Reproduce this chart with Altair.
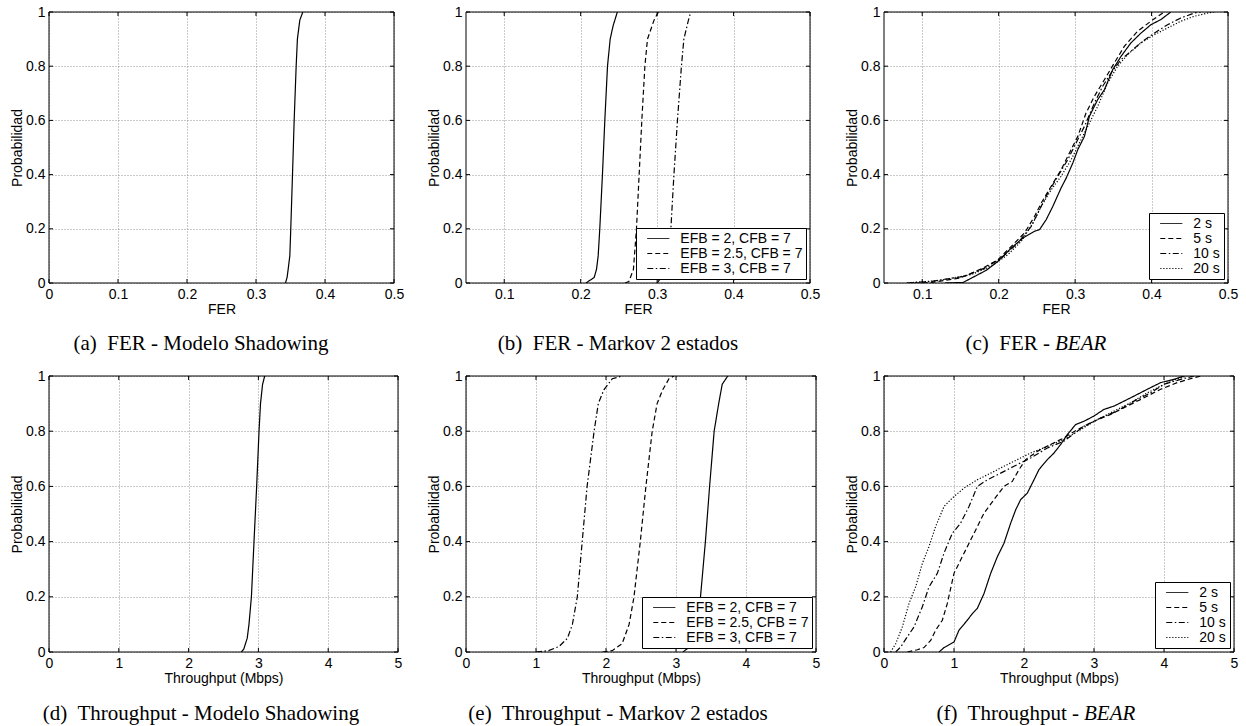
import altair as alt
import pandas as pd

SANS = "Liberation Sans"
SERIF = "Liberation Serif"

# Tick positions
PROB_TICKS = [0, 0.2, 0.4, 0.6, 0.8, 1]
FER_TICKS_FULL = [0, 0.1, 0.2, 0.3, 0.4, 0.5]
FER_TICKS = [0.1, 0.2, 0.3, 0.4, 0.5]
THR_TICKS = [0, 1, 2, 3, 4, 5]

# (a) FER, shadowing model
FER_SHADOW_X = [0.3427, 0.345, 0.3466, 0.349, 0.3504, 0.3529, 0.3553, 0.3582, 0.360, 0.3635, 0.3679]
FER_SHADOW_P = [0, 0.02, 0.05, 0.1, 0.2, 0.4, 0.6, 0.8, 0.9, 0.97, 1]

# (b) FER, two-state Markov model
FER_MK2_X = [0.2068, 0.2176, 0.2207, 0.2229, 0.225, 0.2285, 0.2316, 0.2351, 0.2386, 0.2425, 0.248]
FER_MK2_P = [0, 0.02, 0.05, 0.1, 0.2, 0.4, 0.6, 0.8, 0.9, 0.95, 1]
FER_MK25_X = [0.258, 0.263, 0.269, 0.273, 0.2765, 0.28, 0.284, 0.2874, 0.296, 0.3017]
FER_MK25_P = [0, 0.005, 0.05, 0.2, 0.4, 0.6, 0.8, 0.9, 0.97, 1]
FER_MK3_X = [0.300, 0.308, 0.314, 0.318, 0.322, 0.3266, 0.3318, 0.335, 0.341, 0.344]
FER_MK3_P = [0, 0.03, 0.1, 0.2, 0.4, 0.6, 0.8, 0.9, 0.97, 1]

# (c) FER, BEAR
FER_B2_X = [0.13, 0.1535, 0.1643, 0.1839, 0.1991, 0.2165, 0.2317, 0.247, 0.2535, 0.2622, 0.2709,
            0.2817, 0.2883, 0.297, 0.3035, 0.3122, 0.3187, 0.3296, 0.3383, 0.3491, 0.36, 0.373,
            0.3861, 0.3991, 0.4122, 0.4252]
FER_B2_P = [0, 0.002, 0.018, 0.047, 0.08, 0.129, 0.166, 0.191, 0.197, 0.234, 0.283,
            0.351, 0.387, 0.443, 0.492, 0.541, 0.615, 0.677, 0.713, 0.787, 0.836, 0.886,
            0.922, 0.953, 0.972, 1]
FER_B5_X = [0.09, 0.112, 0.149, 0.1774, 0.1991, 0.2165, 0.2339, 0.247, 0.2557, 0.2687, 0.2817,
            0.2926, 0.3035, 0.3143, 0.3252, 0.3383, 0.3513, 0.3643, 0.3817, 0.3991, 0.4165]
FER_B5_P = [0, 0.002, 0.018, 0.052, 0.086, 0.135, 0.185, 0.246, 0.295, 0.357, 0.418,
            0.48, 0.541, 0.627, 0.689, 0.75, 0.812, 0.873, 0.929, 0.966, 1]
FER_B10_X = [0.08, 0.112, 0.1557, 0.1817, 0.2035, 0.2252, 0.2426, 0.2535, 0.2643, 0.2774, 0.2904,
             0.3013, 0.3122, 0.3252, 0.3361, 0.347, 0.36, 0.373, 0.3883, 0.4035, 0.4209, 0.4383,
             0.4557, 0.4643]
FER_B10_P = [0, 0.006, 0.025, 0.055, 0.092, 0.148, 0.209, 0.271, 0.332, 0.394, 0.455,
             0.517, 0.578, 0.664, 0.726, 0.775, 0.824, 0.855, 0.892, 0.922, 0.953, 0.978,
             0.996, 1]
FER_B20_X = [0.08, 0.1209, 0.1643, 0.1904, 0.2122, 0.2296, 0.2448, 0.2557, 0.2687, 0.2817, 0.2948,
             0.3057, 0.3165, 0.3296, 0.3426, 0.3557, 0.3687, 0.3861, 0.4035, 0.4209, 0.4383,
             0.4557, 0.473, 0.4817]
FER_B20_P = [0, 0.009, 0.031, 0.062, 0.105, 0.154, 0.221, 0.283, 0.344, 0.394, 0.455,
             0.517, 0.578, 0.652, 0.738, 0.80, 0.843, 0.886, 0.916, 0.941, 0.966,
             0.984, 0.996, 1]

# (d) Throughput, shadowing model
THR_SHADOW_X = [2.755, 2.79, 2.84, 2.865, 2.90, 2.937, 2.975, 3.009, 3.03, 3.06, 3.09]
THR_SHADOW_P = [0, 0.01, 0.05, 0.1, 0.2, 0.4, 0.6, 0.8, 0.9, 0.97, 1]

# (e) Throughput, two-state Markov model
THR_MK2_X = [3.10, 3.20, 3.26, 3.35, 3.42, 3.48, 3.545, 3.61, 3.66, 3.74]
THR_MK2_P = [0, 0.02, 0.05, 0.2, 0.4, 0.6, 0.8, 0.9, 0.97, 1]
THR_MK25_X = [1.95, 2.09, 2.23, 2.33, 2.40, 2.49, 2.57, 2.66, 2.73, 2.81, 2.90, 2.97]
THR_MK25_P = [0, 0.005, 0.03, 0.1, 0.2, 0.4, 0.6, 0.8, 0.9, 0.95, 0.99, 1]
THR_MK3_X = [1.0, 1.18, 1.33, 1.45, 1.52, 1.59, 1.66, 1.73, 1.83, 1.89, 1.97, 2.09, 2.23]
THR_MK3_P = [0, 0.005, 0.02, 0.05, 0.1, 0.2, 0.4, 0.6, 0.8, 0.9, 0.95, 0.99, 1]

# (f) Throughput, BEAR
THR_B2_X = [0.786, 0.857, 1.0, 1.071, 1.19, 1.262, 1.333, 1.429, 1.524, 1.619, 1.714, 1.81, 1.881,
            1.952, 2.048, 2.143, 2.214, 2.333, 2.429, 2.524, 2.619, 2.738, 2.857, 3.0, 3.143,
            3.286, 3.429, 3.571, 3.762, 3.952, 4.143, 4.286]
THR_B2_P = [0, 0.016, 0.036, 0.079, 0.115, 0.139, 0.158, 0.212, 0.285, 0.345, 0.394, 0.467, 0.515,
            0.552, 0.576, 0.624, 0.661, 0.697, 0.721, 0.752, 0.788, 0.824, 0.836, 0.855, 0.879,
            0.891, 0.909, 0.927, 0.952, 0.976, 0.988, 1]
THR_B5_X = [0.333, 0.476, 0.571, 0.667, 0.738, 0.833, 0.905, 1.0, 1.143, 1.286, 1.429, 1.571, 1.714,
            1.833, 1.929, 2.024, 2.19, 2.381, 2.571, 2.762, 3.0, 3.238, 3.476, 3.714, 3.952,
            4.19, 4.429, 4.524]
THR_B5_P = [0, 0.008, 0.016, 0.042, 0.079, 0.115, 0.176, 0.285, 0.358, 0.43, 0.503, 0.552, 0.6,
            0.618, 0.661, 0.697, 0.727, 0.752, 0.776, 0.806, 0.836, 0.861, 0.891, 0.921, 0.952,
            0.976, 0.994, 1]
THR_B10_X = [0.167, 0.238, 0.333, 0.429, 0.548, 0.643, 0.762, 0.857, 0.976, 1.095, 1.214, 1.333,
             1.476, 1.667, 1.857, 2.095, 2.333, 2.571, 2.857, 3.095, 3.333, 3.571, 3.81, 4.0,
             4.238, 4.429]
THR_B10_P = [0, 0.018, 0.055, 0.091, 0.164, 0.236, 0.285, 0.358, 0.43, 0.467, 0.527, 0.6,
             0.624, 0.648, 0.673, 0.703, 0.739, 0.764, 0.818, 0.848, 0.873, 0.909, 0.939, 0.97,
             0.988, 1]
THR_B20_X = [0.095, 0.167, 0.262, 0.357, 0.452, 0.548, 0.643, 0.738, 0.857, 0.976, 1.143, 1.333,
             1.524, 1.714, 1.905, 2.095, 2.333, 2.571, 2.81, 3.048, 3.286, 3.524, 3.762, 4.0,
             4.238, 4.333]
THR_B20_P = [0, 0.03, 0.091, 0.176, 0.236, 0.321, 0.382, 0.455, 0.527, 0.558, 0.594, 0.624,
             0.648, 0.673, 0.697, 0.721, 0.745, 0.77, 0.806, 0.842, 0.873, 0.903, 0.939, 0.97,
             0.994, 1]

# Series names and line styles
MARKOV_LABELS = ["EFB = 2, CFB = 7", "EFB = 2.5, CFB = 7", "EFB = 3, CFB = 7"]
MARKOV_DASH = [[1, 0], [5, 3], [6, 2.5, 1.5, 2.5]]
BEAR_LABELS = ["2 s", "5 s", "10 s", "20 s"]
BEAR_DASH = [[1, 0], [5, 3], [6, 2.5, 1.5, 2.5], [1.2, 1.8]]

FS = 14  # axis and legend text size


def to_frame(curves, labels):
    rows = []
    for lab, (xs, ps) in zip(labels, curves):
        for i, (x, p) in enumerate(zip(xs, ps)):
            rows.append({"x": x, "p": p, "serie": lab, "i": i})
    return pd.DataFrame(rows)


def panel(curves, labels, dashes, xdomain, xticks, xtitle, w, h, caption,
          cap_dy, italic=None, split=None):
    xscale = alt.Scale(domain=xdomain, nice=False, zero=False)
    yscale = alt.Scale(domain=[0, 1], nice=False, zero=False)
    xaxis = alt.Axis(values=xticks, title=xtitle, format="~g", grid=True)
    yaxis = alt.Axis(values=PROB_TICKS, title="Probabilidad", format="~g", grid=True)
    xenc = alt.X("x:Q", scale=xscale, axis=xaxis)
    yenc = alt.Y("p:Q", scale=yscale, axis=yaxis)

    enc = dict(x=xenc, y=yenc, order=alt.Order("i:Q"))
    if len(labels) > 1:
        enc["strokeDash"] = alt.StrokeDash(
            "serie:N",
            scale=alt.Scale(domain=labels, range=dashes),
            legend=alt.Legend(
                title=None, orient="bottom-right", offset=4, padding=3.5,
                strokeColor="black", fillColor="white", cornerRadius=0,
                labelFont=SANS, labelFontSize=FS, labelColor="black",
                symbolType="M-3,0H3", symbolSize=54, symbolStrokeWidth=1,
                symbolStrokeColor="black", symbolOffset=11.8, labelOffset=15,
                rowPadding=1,
            ),
        )
    else:
        enc["detail"] = alt.Detail("serie:N")

    lines = alt.Chart(to_frame(curves, labels)).mark_line(
        color="black", strokeWidth=1.2, clip=True
    ).encode(**enc)

    # inward tick marks on all four sides
    xt = pd.DataFrame({"x": xticks})
    yt = pd.DataFrame({"p": PROB_TICKS})
    rule = dict(color="black", strokeWidth=1)
    t_bottom = alt.Chart(xt).mark_rule(**rule).encode(x=xenc, y=alt.value(h), y2=alt.value(h - 4))
    t_top = alt.Chart(xt).mark_rule(**rule).encode(x=xenc, y=alt.value(0), y2=alt.value(4))
    t_left = alt.Chart(yt).mark_rule(**rule).encode(y=yenc, x=alt.value(0), x2=alt.value(4))
    t_right = alt.Chart(yt).mark_rule(**rule).encode(y=yenc, x=alt.value(w - 4), x2=alt.value(w))

    box = alt.Chart(pd.DataFrame({"b": [0]})).mark_rect(
        fillOpacity=0, stroke="black", strokeWidth=1
    ).encode(x=alt.value(0), x2=alt.value(w), y=alt.value(0), y2=alt.value(h))

    layers = [lines, t_bottom, t_top, t_left, t_right, box]

    cap_y = h + cap_dy
    cap_style = dict(font=SERIF, fontSize=21, baseline="middle", color="black")
    if italic is None:
        layers.append(
            alt.Chart(pd.DataFrame({"t": [caption]})).mark_text(align="center", **cap_style)
            .encode(text="t:N", x=alt.value(152), y=alt.value(cap_y))
        )
    else:
        layers.append(
            alt.Chart(pd.DataFrame({"t": [caption]})).mark_text(align="right", **cap_style)
            .encode(text="t:N", x=alt.value(split - 5), y=alt.value(cap_y))
        )
        layers.append(
            alt.Chart(pd.DataFrame({"t": [italic]})).mark_text(
                align="left", fontStyle="italic", **cap_style
            ).encode(text="t:N", x=alt.value(split), y=alt.value(cap_y))
        )

    return alt.layer(*layers).properties(width=w, height=h)


W1, H1 = 345, 271
W2, H2 = 349, 276

pa = panel([(FER_SHADOW_X, FER_SHADOW_P)], ["Shadowing"], [[1, 0]],
           [0, 0.5], FER_TICKS_FULL, "FER", W1, H1,
           "(a)\u00a0 FER - Modelo Shadowing", 61)
pb = panel([(FER_MK2_X, FER_MK2_P), (FER_MK25_X, FER_MK25_P), (FER_MK3_X, FER_MK3_P)],
           MARKOV_LABELS, MARKOV_DASH, [0.05, 0.5], FER_TICKS, "FER", W1 - 1, H1,
           "(b)\u00a0 FER - Markov 2 estados", 61)
pc = panel([(FER_B2_X, FER_B2_P), (FER_B5_X, FER_B5_P), (FER_B10_X, FER_B10_P),
            (FER_B20_X, FER_B20_P)],
           BEAR_LABELS, BEAR_DASH, [0.05, 0.5], FER_TICKS, "FER", W1 - 1, H1,
           "(c)\u00a0 FER -", 61, italic="BEAR", split=171)
pd_ = panel([(THR_SHADOW_X, THR_SHADOW_P)], ["Shadowing"], [[1, 0]],
            [0, 5], THR_TICKS, "Throughput (Mbps)", W2, H2,
            "(d)\u00a0 Throughput - Modelo Shadowing", 62)
pe = panel([(THR_MK2_X, THR_MK2_P), (THR_MK25_X, THR_MK25_P), (THR_MK3_X, THR_MK3_P)],
           MARKOV_LABELS, MARKOV_DASH, [0, 5], THR_TICKS, "Throughput (Mbps)", W2 + 1, H2,
           "(e)\u00a0 Throughput - Markov 2 estados", 62)
pf = panel([(THR_B2_X, THR_B2_P), (THR_B5_X, THR_B5_P), (THR_B10_X, THR_B10_P),
            (THR_B20_X, THR_B20_P)],
           BEAR_LABELS, BEAR_DASH, [0, 5], THR_TICKS, "Throughput (Mbps)", W2 + 1, H2,
           "(f)\u00a0 Throughput -", 62, italic="BEAR", split=200)

# 3 x 2 grid, cells laid out on the plot areas only
chart = alt.concat(
    pa, pb, pc, pd_, pe, pf,
    columns=3, spacing={"row": 93, "column": 68}, bounds="flush",
).resolve_scale(
    x="independent", y="independent", strokeDash="independent"
).resolve_legend(
    strokeDash="independent"
).properties(
    padding={"left": 10, "top": 5, "right": 5, "bottom": 2},
    background="white",
).configure_view(
    strokeWidth=0
).configure_axis(
    labelFont=SANS, labelFontSize=FS, labelColor="black",
    titleFont=SANS, titleFontSize=FS, titleFontWeight="normal", titleColor="black",
    gridColor="#8a8a8a", gridDash=[1, 2], gridWidth=0.9,
    tickSize=0, domain=False, labelPadding=4, labelFlush=False,
).configure_axisX(
    titlePadding=1
).configure_axisY(
    titlePadding=1
)

chart.save("out.html", embed_options={"renderer": "svg", "actions": False})
